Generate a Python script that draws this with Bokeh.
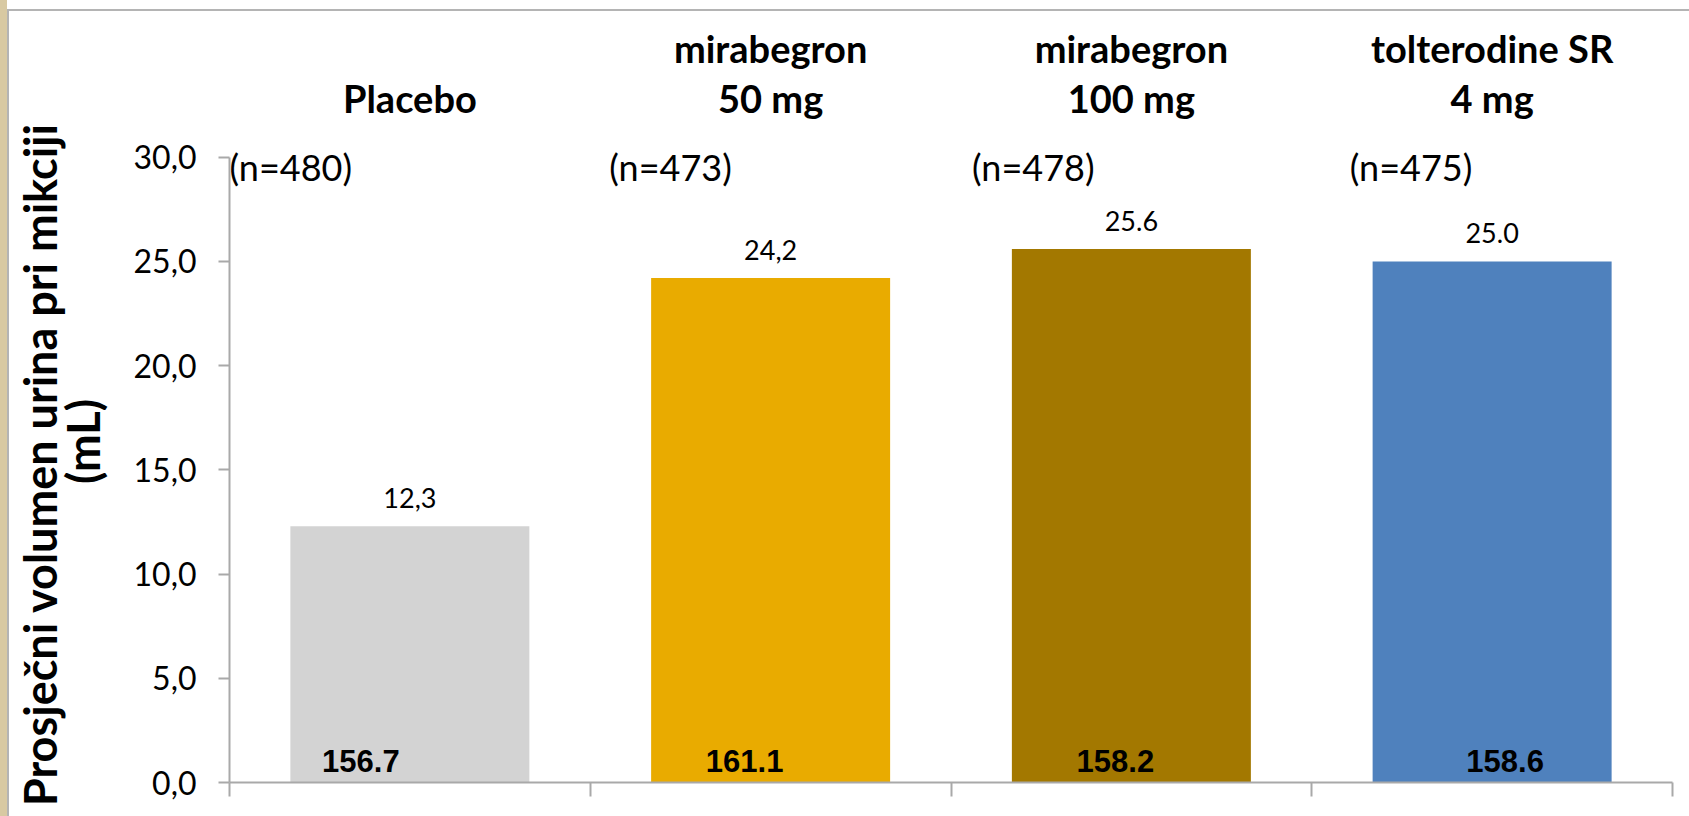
from bokeh.plotting import figure
from bokeh.models import ColumnDataSource, FixedTicker, CustomJSTickFormatter, Div, Range1d
from bokeh.layouts import row, column
from bokeh.core.properties import value
from bokeh.embed import file_html
from bokeh.resources import INLINE
import numpy as np

# Mean voided volume change by treatment arm
categories = ["Placebo", "mirabegron\n50 mg", "mirabegron\n100 mg", "tolterodine SR\n4 mg"]
group_sizes = ["(n=480)", "(n=473)", "(n=478)", "(n=475)"]
change_values = [12.3, 24.2, 25.6, 25.0]
change_labels = ["12,3", "24,2", "25.6", "25.0"]
baseline_values = [156.7, 161.1, 158.2, 158.6]
bar_colors = ["#d3d3d3", "#e9ab00", "#a37800", "#4f81bd"]
y_ticks = [0, 5, 10, 15, 20, 25, 30]
y_tick_labels = ["0,0", "5,0", "10,0", "15,0", "20,0", "25,0", "30,0"]
y_title = ["Prosječni volumen urina pri mikciji", "(mL)"]

# label placement (pixels)
n_label_dx = [0, 19, 21, 38]
baseline_label_dx = [-49, -26, -16, 13]
y_title_pos = [(39, 464), (82, 441)]   # page pixels of each title line

FONT = value("Lato")
GRAY = "#a9a9a9"
FRAME_GRAY = "#b4b4b4"
BEIGE = "#d8c9a2"

n = len(categories)
centers = np.arange(n) + 0.5
lefts = np.arange(n).astype(float)

HEAD_H = 117
MAIN_H = 805 - HEAD_H
PX_PER_UNIT = 625.3 / 30
Y_TOP = (MAIN_H - 34) / PX_PER_UNIT

# ---- main chart -------------------------------------------------------
p = figure(width=1570, height=MAIN_H, x_range=(0, n), y_range=(0, Y_TOP),
           output_backend="svg", toolbar_location=None,
           min_border_left=110, min_border_right=17,
           min_border_top=0, min_border_bottom=34)
p.background_fill_color = "white"
p.border_fill_color = "white"
p.outline_line_color = None
p.grid.visible = False

bars = ColumnDataSource(dict(
    x=centers, top=change_values, color=bar_colors,
    vlabel=change_labels,
    blabel=[f"{v:.1f}" for v in baseline_values],
    bdx=baseline_label_dx,
))
p.vbar(x="x", top="top", bottom=0, width=0.6625, fill_color="color",
       line_color=None, source=bars)

# value above each bar
p.text(x="x", y="top", text="vlabel", source=bars, text_align="center",
       text_baseline="alphabetic", y_offset=-28, text_font=FONT,
       text_font_size="27px", text_color="black")

# baseline volume inside each bar
p.text(x="x", y=0, text="blabel", source=bars, x_offset="bdx", y_offset=-22,
       text_align="center", text_baseline="alphabetic",
       text_font=value("Liberation Sans"), text_font_style="bold",
       text_font_size="31px", text_color="black")

# group sizes
ns = ColumnDataSource(dict(x=lefts, t=group_sizes, dx=n_label_dx))
p.text(x="x", y=30, text="t", source=ns, x_offset="dx", y_offset=10,
       text_align="left", text_baseline="alphabetic", text_font=FONT,
       text_font_size="36px", text_color="black")

# y axis
ya = p.yaxis[0]
ya.bounds = (0, 30)
ya.ticker = FixedTicker(ticks=y_ticks)
ya.major_label_overrides = {t: s for t, s in zip(y_ticks, y_tick_labels)}
ya.major_label_text_font = "Lato"
ya.major_label_text_font_size = "32px"
ya.major_label_text_color = "black"
ya.major_label_standoff = 22
ya.major_tick_out = 11
ya.major_tick_in = 0
ya.minor_tick_line_color = None
ya.axis_line_color = GRAY
ya.axis_line_width = 2
ya.major_tick_line_color = GRAY
ya.major_tick_line_width = 2

# x axis: ticks on category boundaries only
xa = p.xaxis[0]
xa.ticker = FixedTicker(ticks=list(range(n + 1)))
xa.formatter = CustomJSTickFormatter(code="return ''")
xa.major_label_standoff = 0
xa.major_tick_out = 14
xa.major_tick_in = 0
xa.minor_tick_line_color = None
xa.axis_line_color = GRAY
xa.axis_line_width = 2
xa.major_tick_line_color = GRAY
xa.major_tick_line_width = 2

# ---- treatment headers above the chart --------------------------------
head = figure(width=1570, height=HEAD_H, x_range=p.x_range, y_range=(0, 1),
              output_backend="svg", toolbar_location=None,
              x_axis_location=None, y_axis_location=None,
              min_border_left=110, min_border_right=17,
              min_border_top=0, min_border_bottom=0)
head.outline_line_color = None
head.grid.visible = False
head.background_fill_color = "white"
head.border_fill_color = "white"

line_top, line_bot = [], []
for c in categories:
    parts = c.split("\n")
    line_bot.append(parts[-1])
    line_top.append(parts[0] if len(parts) > 1 else "")
hdr = ColumnDataSource(dict(x=centers, a=line_top, b=line_bot))
for col, dy in (("a", -81), ("b", -31)):
    head.text(x="x", y=0, text=col, source=hdr, y_offset=dy,
              text_align="center", text_baseline="alphabetic", text_font=FONT,
              text_font_style="bold", text_font_size="38px", text_color="black")

# ---- vertical axis title (two rotated lines) ---------------------------
ttl = figure(width=110, height=805, x_range=Range1d(9, 119), y_range=Range1d(816, 11),
             output_backend="svg", toolbar_location=None,
             x_axis_location=None, y_axis_location=None,
             min_border_left=0, min_border_right=0,
             min_border_top=0, min_border_bottom=0)
ttl.outline_line_color = None
ttl.grid.visible = False
ttl.background_fill_color = "white"
ttl.border_fill_color = "white"
ttl.text(x=[xy[0] for xy in y_title_pos], y=[xy[1] for xy in y_title_pos],
         text=y_title, angle=np.pi / 2, text_align="center", text_baseline="middle",
         text_font=FONT, text_font_style="bold", text_font_size="45px",
         text_color="black")


# ---- slide frame: textured margin and thin border ----------------------
def block(w, h, color):
    return Div(text="", width=w, height=h, margin=0,
               styles={"background-color": color})


charts = column(head, p, spacing=0, margin=0)
inner = row(block(2, 805, FRAME_GRAY), ttl, charts, spacing=0, margin=0)
right = column(block(1682, 9, "white"), block(1682, 2, FRAME_GRAY), inner,
               spacing=0, margin=0)
page = row(block(7, 816, BEIGE), right, spacing=0, margin=0)

open("out.html", "w").write(file_html(page, INLINE))
